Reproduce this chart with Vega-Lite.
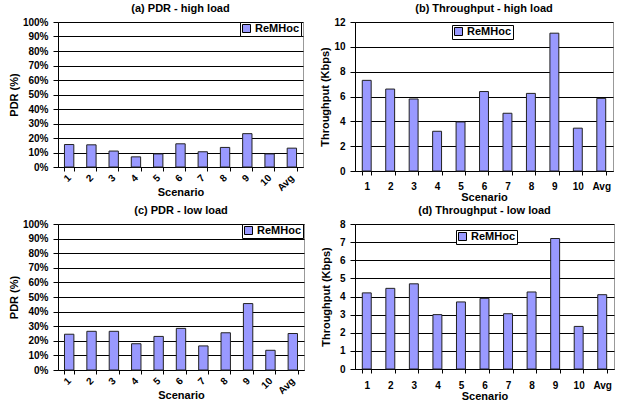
{
  "$schema": "https://vega.github.io/schema/vega-lite/v6.json",
  "background": "white",
  "padding": {"left": 7, "top": 2, "right": 2, "bottom": 0},
  "datasets": {
    "a": [
      {"scenario": "1", "value": 0.155}, {"scenario": "2", "value": 0.153}, {"scenario": "3", "value": 0.11},
      {"scenario": "4", "value": 0.07}, {"scenario": "5", "value": 0.09}, {"scenario": "6", "value": 0.16},
      {"scenario": "7", "value": 0.105}, {"scenario": "8", "value": 0.135}, {"scenario": "9", "value": 0.23},
      {"scenario": "10", "value": 0.09}, {"scenario": "Avg", "value": 0.13}
    ],
    "b": [
      {"scenario": "1", "value": 7.3}, {"scenario": "2", "value": 6.6}, {"scenario": "3", "value": 5.8},
      {"scenario": "4", "value": 3.2}, {"scenario": "5", "value": 3.95}, {"scenario": "6", "value": 6.4},
      {"scenario": "7", "value": 4.65}, {"scenario": "8", "value": 6.25}, {"scenario": "9", "value": 11.1},
      {"scenario": "10", "value": 3.45}, {"scenario": "Avg", "value": 5.85}
    ],
    "c": [
      {"scenario": "1", "value": 0.245}, {"scenario": "2", "value": 0.265}, {"scenario": "3", "value": 0.265},
      {"scenario": "4", "value": 0.18}, {"scenario": "5", "value": 0.23}, {"scenario": "6", "value": 0.285},
      {"scenario": "7", "value": 0.165}, {"scenario": "8", "value": 0.255}, {"scenario": "9", "value": 0.455},
      {"scenario": "10", "value": 0.135}, {"scenario": "Avg", "value": 0.25}
    ],
    "d": [
      {"scenario": "1", "value": 4.2}, {"scenario": "2", "value": 4.45}, {"scenario": "3", "value": 4.7},
      {"scenario": "4", "value": 3.0}, {"scenario": "5", "value": 3.7}, {"scenario": "6", "value": 3.9},
      {"scenario": "7", "value": 3.05}, {"scenario": "8", "value": 4.25}, {"scenario": "9", "value": 7.2},
      {"scenario": "10", "value": 2.35}, {"scenario": "Avg", "value": 4.1}
    ]
  },
  "config": {
    "font": "Liberation Sans",
    "view": {"stroke": "#999999", "strokeWidth": 1},
    "title": {"fontSize": 11, "fontWeight": "bold", "color": "black", "offset": 3},
    "axis": {
      "labelFont": "Liberation Sans", "labelFontSize": 10, "labelFontWeight": "bold", "labelColor": "black",
      "titleFont": "Liberation Sans", "titleFontSize": 11, "titleFontWeight": "bold", "titleColor": "black",
      "domainColor": "black", "tickColor": "black", "tickSize": 5, "gridColor": "black", "gridOpacity": 1,
      "labelPadding": 5
    },
    "legend": {
      "labelFont": "Liberation Sans", "labelFontSize": 11, "labelFontWeight": "bold", "labelColor": "black",
      "strokeColor": "black", "fillColor": "white", "padding": 1, "symbolType": "square", "symbolSize": 64,
      "symbolStrokeColor": "black", "symbolStrokeWidth": 1, "title": null, "labelOffset": 3
    },
    "bar": {"stroke": "#222222", "strokeWidth": 1}
  },
  "spacing": 1,
  "align": "none",
  "resolve": {"scale": {"color": "independent"}, "legend": {"color": "independent"}},
  "vconcat": [
    {
      "spacing": 15,
      "align": "none",
      "resolve": {"scale": {"color": "independent"}, "legend": {"color": "independent"}},
      "hconcat": [
        {
          "width": 245, "height": 145,
          "title": "(a) PDR - high load",
          "data": {"name": "a"},
          "mark": {"type": "bar"},
          "encoding": {
            "x": {"field": "scenario", "type": "nominal", "sort": null, "title": "Scenario",
                  "scale": {"paddingInner": 0.58, "paddingOuter": 0.29},
                  "axis": {"labelAngle": -45, "labelAlign": "right", "labelBaseline": "middle", "tickBand": "extent", "tickSize": 4, "titlePadding": -6, "labelPadding": 5}},
            "y": {"field": "value", "type": "quantitative", "title": "PDR (%)",
                  "scale": {"domain": [0, 1]},
                  "axis": {"values": [0, 0.1, 0.2, 0.3, 0.4, 0.5, 0.6, 0.7, 0.8, 0.9, 1], "format": ".0%", "titlePadding": 3}},
            "color": {"datum": "ReMHoc", "type": "nominal", "scale": {"range": ["#9999FF"]},
                      "legend": {"orient": "none", "legendX": 182, "legendY": 0}}
          }
        },
        {
          "width": 258, "height": 149,
          "title": "(b) Throughput - high load",
          "data": {"name": "b"},
          "mark": {"type": "bar"},
          "encoding": {
            "x": {"field": "scenario", "type": "nominal", "sort": null, "title": "Scenario",
                  "scale": {"paddingInner": 0.62, "paddingOuter": 0.31},
                  "axis": {"labelAngle": 0, "tickBand": "extent", "tickSize": 4, "labelPadding": 6, "titlePadding": 0}},
            "y": {"field": "value", "type": "quantitative", "title": "Throughput (Kbps)",
                  "scale": {"domain": [0, 12]},
                  "axis": {"values": [0, 2, 4, 6, 8, 10, 12], "titlePadding": 3}},
            "color": {"datum": "ReMHoc", "type": "nominal", "scale": {"range": ["#9999FF"]},
                      "legend": {"orient": "none", "legendX": 97, "legendY": 3}}
          }
        }
      ]
    },
    {
      "spacing": 14,
      "align": "none",
      "resolve": {"scale": {"color": "independent"}, "legend": {"color": "independent"}},
      "hconcat": [
        {
          "width": 246, "height": 146,
          "title": "(c) PDR - low load",
          "data": {"name": "c"},
          "mark": {"type": "bar"},
          "encoding": {
            "x": {"field": "scenario", "type": "nominal", "sort": null, "title": "Scenario",
                  "scale": {"paddingInner": 0.58, "paddingOuter": 0.29},
                  "axis": {"labelAngle": -45, "labelAlign": "right", "labelBaseline": "middle", "tickBand": "extent", "tickSize": 4, "titlePadding": -6, "labelPadding": 5}},
            "y": {"field": "value", "type": "quantitative", "title": "PDR (%)",
                  "scale": {"domain": [0, 1]},
                  "axis": {"values": [0, 0.1, 0.2, 0.3, 0.4, 0.5, 0.6, 0.7, 0.8, 0.9, 1], "format": ".0%", "titlePadding": 3}},
            "color": {"datum": "ReMHoc", "type": "nominal", "scale": {"range": ["#9999FF"]},
                      "legend": {"orient": "none", "legendX": 184, "legendY": 0}}
          }
        },
        {
          "width": 259, "height": 145,
          "title": "(d) Throughput - low load",
          "data": {"name": "d"},
          "mark": {"type": "bar"},
          "encoding": {
            "x": {"field": "scenario", "type": "nominal", "sort": null, "title": "Scenario",
                  "scale": {"paddingInner": 0.62, "paddingOuter": 0.31},
                  "axis": {"labelAngle": 0, "tickBand": "extent", "tickSize": 4, "labelPadding": 7, "titlePadding": 0}},
            "y": {"field": "value", "type": "quantitative", "title": "Throughput (Kbps)",
                  "scale": {"domain": [0, 8]},
                  "axis": {"values": [0, 1, 2, 3, 4, 5, 6, 7, 8], "titlePadding": 8}},
            "color": {"datum": "ReMHoc", "type": "nominal", "scale": {"range": ["#9999FF"]},
                      "legend": {"orient": "none", "legendX": 101, "legendY": 6}}
          }
        }
      ]
    }
  ]
}
